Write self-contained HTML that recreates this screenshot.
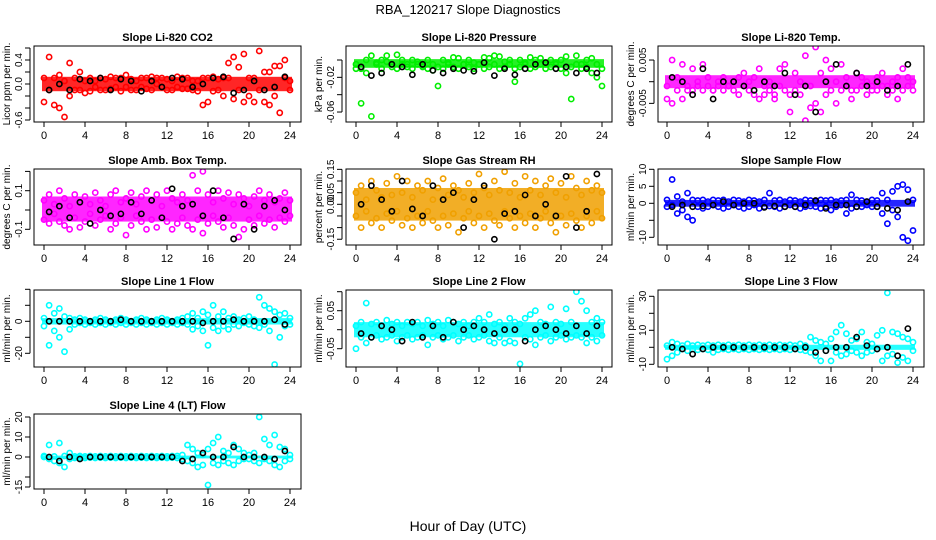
<!DOCTYPE html>
<html><head><meta charset="utf-8"><style>
html,body{margin:0;padding:0;background:#fff;width:936px;height:540px;overflow:hidden}
svg{display:block;font-family:"Liberation Sans",Arial,sans-serif}
</style></head><body>
<svg id="chart" width="936" height="540" xmlns="http://www.w3.org/2000/svg">
<rect width="936" height="540" fill="#fff"/>
<text x="468" y="14" text-anchor="middle" font-size="13">RBA_120217  Slope Diagnostics</text>
<text x="468" y="531" text-anchor="middle" font-size="14">Hour of Day (UTC)</text>
</svg>
<script>
const hoursC=[0,0.5,1,1.5,2,2.5,3,3.5,4,4.5,5,5.5,6,6.5,7,7.5,8,8.5,9,9.5,10,10.5,11,11.5,12,12.5,13,13.5,14,14.5,15,15.5,16,16.5,17,17.5,18,18.5,19,19.5,20,20.5,21,21.5,22,22.5,23,23.5,24];
const hoursK=[0.5,1.5,2.5,3.5,4.5,5.5,6.5,7.5,8.5,9.5,10.5,11.5,12.5,13.5,14.5,15.5,16.5,17.5,18.5,19.5,20.5,21.5,22.5,23.5];
const xTicks=[0,4,8,12,16,20,24];

const co2A=[-0.3,0.45,0.1,-0.4,0.05,0.35,-0.1,0.2,-0.15,0.1,0.05,-0.1,0.08,0.12,-0.05,0.1,0.15,-0.1,0.05,0.1,-0.08,0.12,0.0,0.1,-0.1,0.05,0.12,-0.08,0.1,0.05,-0.12,0.1,-0.3,0.12,0.08,-0.2,0.1,0.45,0.28,0.5,-0.2,0.1,0.55,-0.3,0.2,-0.2,0.3,0.4,-0.1];
const co2B=[0.1,-0.1,-0.35,0.15,-0.55,-0.2,0.1,-0.1,0.05,-0.12,-0.05,0.1,-0.1,-0.08,0.1,-0.12,-0.05,0.08,-0.1,-0.05,0.1,-0.1,0.1,-0.05,0.08,-0.1,-0.05,0.1,-0.08,-0.1,0.05,-0.35,0.1,-0.12,-0.1,0.1,0.35,-0.25,-0.1,-0.3,0.1,-0.3,-0.1,0.2,-0.35,0.3,-0.48,0.1,0.05];
const co2K=[-0.1,0.0,-0.1,0.08,0.05,0.1,-0.1,0.08,0.05,-0.12,0.05,-0.05,0.1,0.08,-0.05,0.0,0.1,0.12,-0.15,-0.1,0.05,-0.1,-0.05,0.12];
const co2Band=[-0.12,0.12];
const co2Ticks=[-0.6,-0.4,-0.2,0,0.2,0.4,0.6];
const co2Labels=["-0.6","0.0","0.4"];

const presA=[-0.01,-0.05,0.0,0.005,-0.003,0.0,0.005,-0.005,0.006,0.0,-0.005,0.0,-0.002,-0.006,0.0,-0.005,-0.03,0.0,-0.003,0.003,0.002,-0.005,0.0,-0.003,-0.005,0.003,0.002,0.005,0.004,-0.002,0.0,-0.025,0.0,-0.003,0.003,0.0,0.002,-0.005,0.0,-0.003,0.0,0.004,-0.045,0.005,-0.005,0.0,0.002,-0.02,-0.03];
const presB=[-0.005,-0.01,-0.015,-0.065,-0.005,-0.01,-0.002,-0.008,-0.01,-0.005,-0.008,-0.01,-0.005,-0.008,-0.01,-0.012,-0.008,-0.01,-0.005,-0.008,-0.01,-0.005,-0.008,-0.01,-0.005,-0.01,-0.008,-0.005,-0.01,-0.008,-0.005,-0.01,-0.008,-0.005,-0.01,-0.008,-0.005,-0.01,-0.008,-0.005,-0.01,-0.015,-0.008,-0.005,-0.01,-0.008,-0.015,-0.005,-0.01];
const presK=[-0.008,-0.018,-0.015,-0.005,-0.008,-0.017,-0.005,-0.012,-0.015,-0.01,-0.012,-0.013,-0.003,-0.018,-0.01,-0.017,-0.01,-0.005,-0.003,-0.01,-0.008,-0.015,-0.01,-0.015];
const presBand=[-0.009,0.001];
const presTicks=[0,-0.02,-0.04,-0.06];
const presLabels=["-0.06","-0.02"];

const tempA=[-0.004,0.005,0.001,0.004,-0.002,0.003,0.0,0.004,0.001,-0.002,0.0,0.001,-0.001,0.0,0.001,0.002,0.0,0.001,0.003,-0.003,0.0,-0.003,0.003,0.004,-0.003,0.002,0.0,0.006,-0.006,0.008,0.002,0.005,0.003,0.0,0.004,0.001,-0.002,0.002,0.001,0.0,-0.002,0.001,0.002,-0.001,0.0,0.001,0.003,0.001,0.0];
const tempB=[-0.001,-0.005,-0.002,-0.004,-0.001,-0.002,-0.001,-0.002,-0.001,-0.002,-0.001,-0.002,-0.001,-0.002,-0.003,-0.001,-0.002,-0.003,-0.004,-0.001,-0.002,-0.004,-0.001,-0.002,-0.007,-0.002,-0.003,-0.009,-0.001,-0.005,-0.007,-0.003,-0.002,-0.005,-0.002,-0.001,-0.004,-0.002,-0.001,-0.003,-0.001,-0.002,-0.001,-0.003,-0.002,-0.004,-0.002,-0.001,-0.002];
const tempK=[0.001,0.0,-0.003,0.003,-0.004,0.0,0.0,-0.001,-0.002,0.0,-0.001,0.002,-0.003,-0.001,-0.007,0.0,0.004,-0.001,0.002,-0.001,0.0,-0.002,-0.001,0.004];
const tempBand=[-0.0015,0.0015];
const tempTicks=[0.005,0,-0.005];
const tempLabels=["0.005","-0.005"];

const ambA=[0.05,0.08,0.03,0.1,0.06,0.02,0.08,0.04,0.07,0.03,0.09,0.05,0.02,0.08,0.1,0.04,0.06,0.09,0.03,0.07,0.1,0.05,0.08,0.02,0.1,0.06,0.04,0.08,0.05,0.18,0.1,0.2,0.08,0.04,0.1,0.06,0.09,0.03,0.08,0.06,0.02,0.07,0.1,0.05,0.08,0.04,0.06,0.09,0.05];
const ambB=[-0.05,-0.07,-0.02,-0.06,-0.08,-0.1,-0.04,-0.09,-0.06,-0.02,-0.08,-0.05,-0.03,-0.1,-0.07,-0.04,-0.13,-0.08,-0.03,-0.06,-0.1,-0.05,-0.09,-0.04,-0.06,-0.1,-0.07,-0.04,-0.08,-0.1,-0.05,-0.12,-0.07,-0.03,-0.06,-0.09,-0.04,-0.08,-0.14,-0.1,-0.05,-0.08,-0.03,-0.07,-0.05,-0.09,-0.04,-0.06,-0.03];
const ambK=[-0.01,0.02,-0.04,0.04,-0.07,0.0,-0.03,-0.02,0.04,-0.02,0.05,-0.04,0.11,0.02,0.03,-0.03,0.1,-0.04,-0.15,0.03,-0.1,0.02,0.05,0.0];
const ambBand=[-0.06,0.07];
const ambTicks=[0.2,0.1,0,-0.1];
const ambLabels=["0.1","-0.1"];

const rhA=[0.05,0.08,0.02,0.1,0.06,0.03,0.09,0.04,0.12,0.05,0.1,0.03,0.08,0.06,0.1,0.02,0.07,0.11,0.04,0.08,0.06,0.03,0.09,0.05,0.13,0.07,0.04,0.1,0.06,0.14,0.05,0.09,0.03,0.12,0.06,0.1,0.04,0.08,0.11,0.05,0.09,0.03,0.12,0.07,0.04,0.1,0.06,0.08,0.05];
const rhB=[-0.05,-0.1,-0.03,-0.08,-0.06,-0.1,-0.04,-0.07,-0.03,-0.09,-0.06,-0.1,-0.05,-0.08,-0.03,-0.07,-0.1,-0.05,-0.09,-0.04,-0.12,-0.06,-0.03,-0.08,-0.05,-0.1,-0.04,-0.07,-0.09,-0.03,-0.06,-0.1,-0.05,-0.08,-0.04,-0.1,-0.06,-0.03,-0.08,-0.12,-0.05,-0.09,-0.04,-0.07,-0.1,-0.05,-0.08,-0.03,-0.06];
const rhK=[0.0,0.08,0.02,-0.03,0.1,-0.02,-0.05,0.08,0.02,0.05,-0.1,0.02,0.08,-0.15,-0.04,-0.03,0.04,-0.05,0.0,-0.05,0.12,-0.1,-0.03,0.13];
const rhBand=[-0.07,0.07];
const rhTicks=[0.15,0.1,0.05,0,-0.05,-0.1,-0.15];
const rhLabels=["0.15","0.05","0.00","-0.15"];

const sfA=[1,7,2,0.5,3,1,0.8,1,0.5,1,0.8,1,0.5,1,0.8,0.5,1,0.8,0.5,1,3,0.8,1,0.5,1,0.8,0.5,1,0.8,0.5,1,0.8,1,0.5,0.8,1,2.5,1,0.8,0.5,1,0.8,3,1,3.5,5,5.5,4,1];
const sfB=[-1,-0.5,-3,-2,-4,-5,-1,-1.5,-1,-0.5,-1,-1.5,-1,-0.5,-1,-1.5,-1,-0.5,-1.5,-1,-0.8,-1,-1.5,-1,-0.5,-1,-1.5,-1,-0.8,-1,-1.5,-1,-2,-1,-0.5,-3,-1.5,-1,-1,-0.5,-1,-1,-3,-6,-2,-4,-10,-11,-8];
const sfK=[-1,-0.5,-1,-0.8,-0.5,0.5,-0.5,0,0,-1.2,-0.8,-1,-1,-0.5,0.8,-1.5,-0.5,-0.5,-1,0.5,-1,-1.5,-2,0.5];
const sfBand=[-1,1];
const sfTicks=[10,5,0,-5,-10];
const sfLabels=["10","5","0","-10"];

const l1A=[2,10,5,8,3,2,1,2,1,0,1,2,1,0,1,2,1,0,1,2,1,0,1,2,1,0,1,2,3,5,2,6,4,10,3,6,2,3,1,2,3,1,15,10,8,6,4,5,2];
const l1B=[-3,-15,-6,-10,-19,-5,-2,-1,-2,-1,-2,-1,-2,-1,-2,-1,-2,-1,-2,-1,-2,-1,-2,-1,-2,-1,-2,-1,-2,-5,-3,-6,-15,-4,-6,-3,-5,-2,-3,-1,-2,-3,-4,-2,-6,-27,-10,-3,-2];
const l1K=[0,0,0,0,0,0,0,1,0,0,0,0,0,0,0,-1,0,0,1,0,0,0,1,-2];
const l1Band=[-2,2];
const l1Ticks=[20,10,0,-10,-20];
const l1Labels=["0","-20"];

const l2A=[0.01,0.02,0.07,0.015,0.02,0.01,0.025,0.015,0.02,0.01,0.02,0.015,0.02,0.01,0.025,0.015,0.02,0.01,0.025,0.02,0.015,0.02,0.01,0.02,0.03,0.02,0.04,0.015,0.02,0.01,0.03,0.02,0.015,0.03,0.04,0.05,0.02,0.015,0.06,0.02,0.015,0.055,0.02,0.1,0.075,0.05,0.02,0.03,0.02];
const l2B=[-0.05,-0.02,-0.035,-0.02,-0.015,-0.025,-0.02,-0.015,-0.03,-0.02,-0.015,-0.025,-0.02,-0.015,-0.04,-0.02,-0.015,-0.025,-0.02,-0.015,-0.03,-0.02,-0.015,-0.025,-0.02,-0.015,-0.03,-0.035,-0.02,-0.035,-0.03,-0.035,-0.09,-0.02,-0.025,-0.04,-0.02,-0.015,-0.03,-0.02,-0.015,-0.025,-0.02,-0.015,-0.02,-0.035,-0.02,-0.03,-0.015];
const l2K=[-0.01,-0.02,0.01,0.0,-0.03,0.02,-0.02,0.01,-0.02,0.02,0.0,0.01,0.0,-0.01,0.0,0.0,-0.03,0.0,0.01,0.0,-0.01,0.01,-0.01,0.01];
const l2Band=[-0.02,0.02];
const l2Ticks=[0.1,0.05,0,-0.05];
const l2Labels=["0.05","-0.05"];

const l3A=[1,3,2,1,2,1,1.5,1,1.5,1,1.5,1,1.5,1,1.5,1,1.5,1,1.5,1,1.5,1,1.5,1,1.5,1,2,1,6,4,3,2,5,9,13,8,4,5,9,3,2,7,10,32,9,8,6,5,3];
const l3B=[-7,-5,-3,-1,-2,-1,-1.5,-1,-1.5,-3,-1.5,-1,-1.5,-1,-1.5,-1,-1.5,-1,-1.5,-1,-1.5,-1,-1.5,-1,-1.5,-1,-1.5,-2,-3,-5,-8,-2,-8,-3,-5,-4,-2,-3,-5,-3,-2,-1,-8,-5,-4,-9,-6,-8,-2];
const l3K=[0,-1,-4,-1,0,0,0,0,0,0,0,0,-1,0,-3,-2,0,0,6,1,-1,0,-5,11];
const l3Band=[-1.5,1.5];
const l3Ticks=[30,20,10,0,-10];
const l3Labels=["30","10","-10"];

const l4A=[0.5,6,0.3,7,0.5,2,0.3,0.5,0.3,0.5,0.3,0.5,0.3,0.5,0.3,0.5,0.3,0.5,0.3,0.5,0.3,0.5,0.3,0.5,0.3,0.5,0.5,1,6,4,2,1,4,7,10,3,2,6,4,2,1,2,20,9,6,11,5,4,1];
const l4B=[0,-1,-2,-3,-5,-1,-0.5,-0.3,-0.5,-0.3,-0.5,-0.3,-0.5,-0.3,-0.5,-0.3,-0.5,-0.3,-0.5,-0.3,-0.5,-0.3,-0.5,-0.3,-0.5,-0.3,-0.5,-1,-2,-3,-5,-4,-14,-3,-4,-2,-3,-4,-2,-1,-1,-2,-3,-1,-2,-4,-5,-2,-1];
const l4K=[0,-2,0,-1,0,0,0,0,0,0,0,0,0,-2,-1,2,0,0,5,0,0,0,-1,3];
const l4Band=[-0.7,0.7];
const l4Ticks=[20,10,0,-10,-15];
const l4Labels=["20","10","0","-15"];

const NS="http://www.w3.org/2000/svg";
const svg=document.getElementById('chart');
function mk(tag,attrs,parent){const e=document.createElementNS(NS,tag);for(const k in attrs)e.setAttribute(k,attrs[k]);(parent||svg).appendChild(e);return e;}

const cols=[[34,301,44,290],[346,612,356,602],[658,924,667,913]];
const rows=[[46,122],[169,245],[290,367],[414,489]];
const panels=[
 {name:'co2',title:'Slope Li-820 CO2',ylab:'Licor ppm per min.',c:0,r:0,z:84,ppu:60,col:'#ff0000',A:co2A,B:co2B,K:co2K,band:co2Band,ticks:co2Ticks,labels:co2Labels},
 {name:'pressure',title:'Slope Li-820 Pressure',ylab:'kPa per min.',c:1,r:0,z:60,ppu:867,col:'#00ee00',A:presA,B:presB,K:presK,band:presBand,ticks:presTicks,labels:presLabels},
 {name:'li820-temp',title:'Slope Li-820 Temp.',ylab:'degrees C per min.',c:2,r:0,z:81.7,ppu:4333,col:'#ff00ff',A:tempA,B:tempB,K:tempK,band:tempBand,ticks:tempTicks,labels:tempLabels},
 {name:'amb-box-temp',title:'Slope Amb. Box Temp.',ylab:'degrees C per min.',c:0,r:1,z:210,ppu:193,col:'#ff00ff',A:ambA,B:ambB,K:ambK,band:ambBand,ticks:ambTicks,labels:ambLabels},
 {name:'gas-rh',title:'Slope Gas Stream RH',ylab:'percent per min.',c:1,r:1,z:204.3,ppu:233,col:'#f0a000',A:rhA,B:rhB,K:rhK,band:rhBand,ticks:rhTicks,labels:rhLabels},
 {name:'sample-flow',title:'Slope Sample Flow',ylab:'ml/min per min.',c:2,r:1,z:203.3,ppu:3.4,col:'#0000ff',A:sfA,B:sfB,K:sfK,band:sfBand,ticks:sfTicks,labels:sfLabels},
 {name:'line1-flow',title:'Slope Line 1 Flow',ylab:'ml/min per min.',c:0,r:2,z:321.3,ppu:1.6,col:'#00ffff',A:l1A,B:l1B,K:l1K,band:l1Band,ticks:l1Ticks,labels:l1Labels},
 {name:'line2-flow',title:'Slope Line 2 Flow',ylab:'ml/min per min.',c:1,r:2,z:329.7,ppu:380,col:'#00ffff',A:l2A,B:l2B,K:l2K,band:l2Band,ticks:l2Ticks,labels:l2Labels},
 {name:'line3-flow',title:'Slope Line 3 Flow',ylab:'ml/min per min.',c:2,r:2,z:347.3,ppu:1.7,col:'#00ffff',A:l3A,B:l3B,K:l3K,band:l3Band,ticks:l3Ticks,labels:l3Labels},
 {name:'line4-flow',title:'Slope Line 4 (LT) Flow',ylab:'ml/min per min.',c:0,r:3,z:457,ppu:2.0,col:'#00ffff',A:l4A,B:l4B,K:l4K,band:l4Band,ticks:l4Ticks,labels:l4Labels}
];

panels.forEach(p=>{
 const [bx0,bx1,t0,t24]=cols[p.c];const [by0,by1]=rows[p.r];
 const xs=h=>t0+(t24-t0)*h/24;
 const ys=v=>p.z-v*p.ppu;
 const g=mk('g',{});
 
 
 const cp=mk('clipPath',{id:'clip-'+p.name},g);
 mk('rect',{x:bx0,y:by0,width:bx1-bx0,height:by1-by0},cp);
 const t=mk('text',{x:(bx0+bx1)/2,y:by0-5,'text-anchor':'middle','font-size':11,'font-weight':'bold'},g);
 t.textContent=p.title;
 
 
 const pts=mk('g',{'clip-path':'url(#clip-'+p.name+')'},g);
 
 
 const band=mk('rect',{x:xs(0)-2,y:ys(p.band[1]),width:xs(24)-xs(0)+4,height:ys(p.band[0])-ys(p.band[1]),fill:p.col,'fill-opacity':0.85},pts);
 
 
 [p.A,p.B].forEach(arr=>arr.forEach((v,i)=>{
   const c=mk('circle',{cx:xs(hoursC[i]),cy:ys(v),r:2.6,fill:'none',stroke:p.col,'stroke-width':1.6},pts);
   
   
 }));
 p.K.forEach((v,i)=>{
   const c=mk('circle',{cx:xs(hoursK[i]),cy:ys(v),r:2.6,fill:'none',stroke:'#000','stroke-width':1.6},pts);
   
   
 });
 const box=mk('rect',{x:bx0,y:by0,width:bx1-bx0,height:by1-by0,fill:'none',stroke:'#000','stroke-width':1},g);
 
 
 mk('line',{x1:xs(0),x2:xs(24),y1:by1,y2:by1,stroke:'#000'},g);
 xTicks.forEach(h=>{
   mk('line',{x1:xs(h),x2:xs(h),y1:by1,y2:by1+5,stroke:'#000'},g);
   const l=mk('text',{x:xs(h),y:by1+17,'text-anchor':'middle','font-size':11},g);
   l.textContent=h;
   
   
 });
 const ax=bx0-4;
 const tmax=Math.max(...p.ticks),tmin=Math.min(...p.ticks);
 mk('line',{x1:ax,x2:ax,y1:ys(tmax),y2:ys(tmin),stroke:'#000'},g);
 p.ticks.forEach(v=>mk('line',{x1:ax-5,x2:ax,y1:ys(v),y2:ys(v),stroke:'#000'},g));
 p.labels.forEach(s=>{
   const y=ys(parseFloat(s));
   const l=mk('text',{x:0,y:0,'text-anchor':'middle','font-size':10,transform:'translate('+(ax-8)+','+y+') rotate(-90)'},g);
   l.textContent=s;
   
   
 });
 const yl=mk('text',{x:0,y:0,'text-anchor':'middle','font-size':10,transform:'translate('+(bx0-24)+','+((by0+by1)/2)+') rotate(-90)'},g);
 yl.textContent=p.ylab;
 
 
});
</script>
</body></html>
